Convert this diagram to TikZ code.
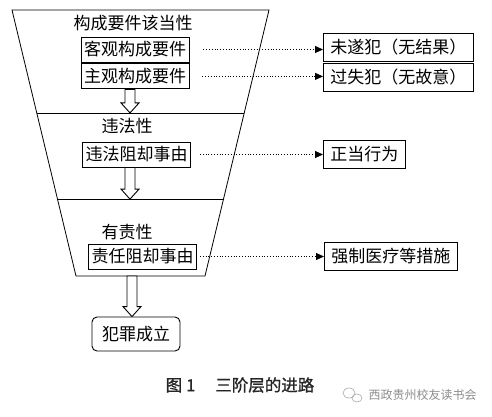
\documentclass[tikz,border=0pt]{standalone}
\usepackage{fontspec}
\setmainfont{Noto Sans CJK SC}
\newfontfamily\capfont[FakeBold=1.2]{Noto Sans CJK SC}
\usetikzlibrary{arrows.meta,calc,positioning}

\tikzset{
  box/.style={draw, line width=0.9pt, inner xsep=3pt, inner ysep=0pt,
    minimum height=25pt, font=\fontsize{17}{20}\selectfont},
  sidebox/.style={box, inner xsep=7pt, minimum height=28pt},
  endbox/.style={box, rounded corners=5pt, inner xsep=10pt, minimum height=34pt},
  layer/.style={font=\fontsize{17}{20}\selectfont},
  dotarrow/.style={dotted, line width=0.8pt, -{Triangle[length=8pt,width=7pt]}},
  hollow/.style={draw, line width=0.9pt, fill=white},
}
% hollow block arrow, pointing down from #1 to the height of #2
\newcommand{\blockarrow}[2]{%
  \draw[hollow] let \p1=(#1), \p2=(#2) in
    (\x1-5pt,\y1) -- (\x1+5pt,\y1) -- (\x1+5pt,\y2+10pt) -- (\x1+9pt,\y2+10pt)
    -- (\x1,\y2) -- (\x1-9pt,\y2+10pt) -- (\x1-5pt,\y2+10pt) -- cycle;}

\begin{document}
\begin{tikzpicture}[x=1pt, y=-1pt]
    \useasboundingbox (0,0) rectangle (492,416);

    % Funnel of the three stages
    \coordinate (tl) at (12,10);
    \coordinate (tr) at (269,10);
    \coordinate (br) at (205,276);
    \coordinate (bl) at (76,276);
    \draw[line width=0.8pt] (tl) -- (tr) -- (br) -- (bl) -- cycle;
    \draw[line width=0.8pt] ($(tl)!0.387!(bl)$) coordinate (l1) -- ($(tr)!0.387!(br)$);
    \draw[line width=0.9pt] ($(tl)!0.711!(bl)$) coordinate (l2) -- ($(tr)!0.711!(br)$);

    % Stage 1
    \node[layer] (gc) at (133,23) {构成要件该当性};
    \node[box] (kg) at (135,49.5) {客观构成要件};
    \node[box, below=1pt of kg] (zg) {主观构成要件};
    \blockarrow{[xshift=-5pt]zg.south}{l1}

    % Stage 2
    \node[layer] (wfx) at (127,126) {违法性};
    \node[box] (wf) at (136.5,154.5) {违法阻却事由};
    \blockarrow{[xshift=-6.5pt]wf.south}{l2}

    % Stage 3
    \node[layer] (yzx) at (127,232) {有责性};
    \node[box] (zr) at (142.5,256.5) {责任阻却事由};

    % Result
    \node[endbox] (fz) at (136,334) {犯罪成立};
    \coordinate (a3) at (132,276);
    \blockarrow{a3}{fz.north}

    % Outcomes on the right
    \node[sidebox, anchor=west] (ws) at (323,47.5) {未遂犯（无结果）};
    \node[sidebox, below=1pt of ws] (gs) {过失犯（无故意）};
    \node[sidebox, anchor=west] (zd) at (323,154.5) {正当行为};
    \node[sidebox, anchor=west] (qz) at (324,256.5) {强制医疗等措施};

    \draw[dotarrow, shorten <=14pt] (kg.east) -- (kg.east -| ws.west);
    \draw[dotarrow, shorten <=13pt] (zg.east) -- (zg.east -| gs.west);
    \draw[dotarrow, shorten <=9pt] (wf.east) -- (wf.east -| zd.west);
    \draw[dotarrow, shorten <=3pt] (zr.east) -- (zr.east -| qz.west);

    % Caption and mark
    \node[font=\capfont\fontsize{16.5}{18}\selectfont, text=black!85] (cap) at (240,385)
        {图\hspace{4pt}1\hspace{20pt}三阶层的进路};
    \node[font=\fontsize{12}{14}\selectfont, text=black!45] (wm) at (422.5,395)
        {西政贵州校友读书会};
    \draw[black!35, line width=0.6pt] (349,393) ellipse (6pt and 5pt);
    \draw[black!35, line width=0.6pt] (357,398) ellipse (5pt and 4pt);
\end{tikzpicture}
\end{document}
